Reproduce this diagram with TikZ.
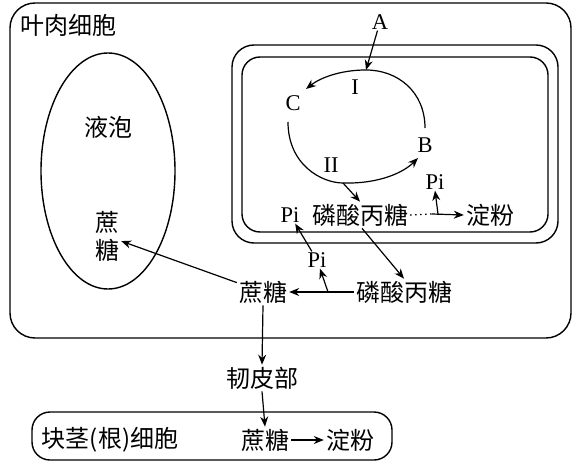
\documentclass[tikz,border=0pt]{standalone}
\usepackage{fontspec}
\setmainfont{Liberation Serif}
\newfontfamily\cjk{Noto Sans CJK SC}
\usetikzlibrary{arrows.meta,shapes.geometric}

\begin{document}
\begin{tikzpicture}[
	x=1pt, y=-1pt,
	cjk/.style={ font=\cjk\fontsize{24}{28}\selectfont, inner sep=2pt },
	lat/.style={ font=\fontsize{22.5}{24}\selectfont, inner sep=1pt },
	arr/.style={ line width=1.2pt, -{Stealth[length=10pt,width=8pt]} },
	wall/.style={ line width=1.4pt, rounded corners=#1 }
]
\useasboundingbox (0,0) rectangle (572,462);

% cells and organelles
\draw[wall=25] (10,3) rectangle (571,338);
\draw[wall=22] (232,45) rectangle (558,243);
\draw[wall=18] (242,57) rectangle (548,232);
\draw[wall=18] (32,412) rectangle (392,460);
\node at (108,171) (vac) [ellipse, draw, line width=1.4pt, minimum width=134pt, minimum height=236pt, inner sep=0pt] {};

\node at (68,25) (leaf) [cjk] {叶肉细胞};
\node at (108,127) (vacT) [cjk] {液泡};
\node at (107,236) (sucV) [cjk, align=center] {蔗\\糖};
\node at (110,440) (tuber) [cjk] {块茎(根)细胞};

% chloroplast
\node at (380,22) (A) [lat] {A};
\node at (293,103) (C) [lat] {C};
\node at (425,145) (B) [lat] {B};
\node at (355,87) (I) [lat] {I};
\node at (331,165) (II) [lat] {II};
\coordinate (top) at (366,70);
\coordinate (low) at (343,183);
\draw[arr] (A) -- (top);
\draw[arr] (425,128) .. controls (425,92) and (398,70) .. (top) .. controls (340,70) and (320,78) .. (306,89);
\draw[arr] (288,122) .. controls (288,165) and (322,183) .. (low) .. controls (380,184) and (404,172) .. (418,158);

\node at (290,215) (piIn) [lat] {Pi};
\node at (360,215) (tpIn) [cjk] {磷酸丙糖};
\node at (490,215) (starch) [cjk] {淀粉};
\node at (435,182) (piUp) [lat] {Pi};
\coordinate (dot) at (432,214);
\coordinate (stub) at (438,214);
\draw[arr] (low) -- (tpIn.north);
\draw[line width=1.3pt, dash pattern=on 1.5pt off 3.5pt] (tpIn.east) -- (dot);
\draw[arr] (dot) -- (starch.west);
\draw[arr] (stub) -- (piUp.south);

% cytoplasm
\node at (263,292) (sucO) [cjk] {蔗糖};
\node at (404,292) (tpOut) [cjk] {磷酸丙糖};
\node at (317,260) (piOut) [lat] {Pi};
\coordinate (br) at (328,292);
\draw[arr] (tpOut.west) -- (sucO.east);
\draw[arr] (br) -- (piOut);
\draw[arr] (piOut) -- (piIn);
\draw[arr] (tpIn.south) ++(2,0) -- (tpOut.north);
\draw[arr] (sucO) -- (sucV);

% transport
\node at (262,378) (phloem) [cjk] {韧皮部};
\node at (265,440) (sucT) [cjk] {蔗糖};
\node at (350,440) (starchT) [cjk] {淀粉};
\draw[arr] (sucO.south) -- (phloem.north);
\draw[arr] (phloem.south) -- (sucT.north);
\draw[arr] (sucT.east) -- (starchT.west);

\end{tikzpicture}
\end{document}
